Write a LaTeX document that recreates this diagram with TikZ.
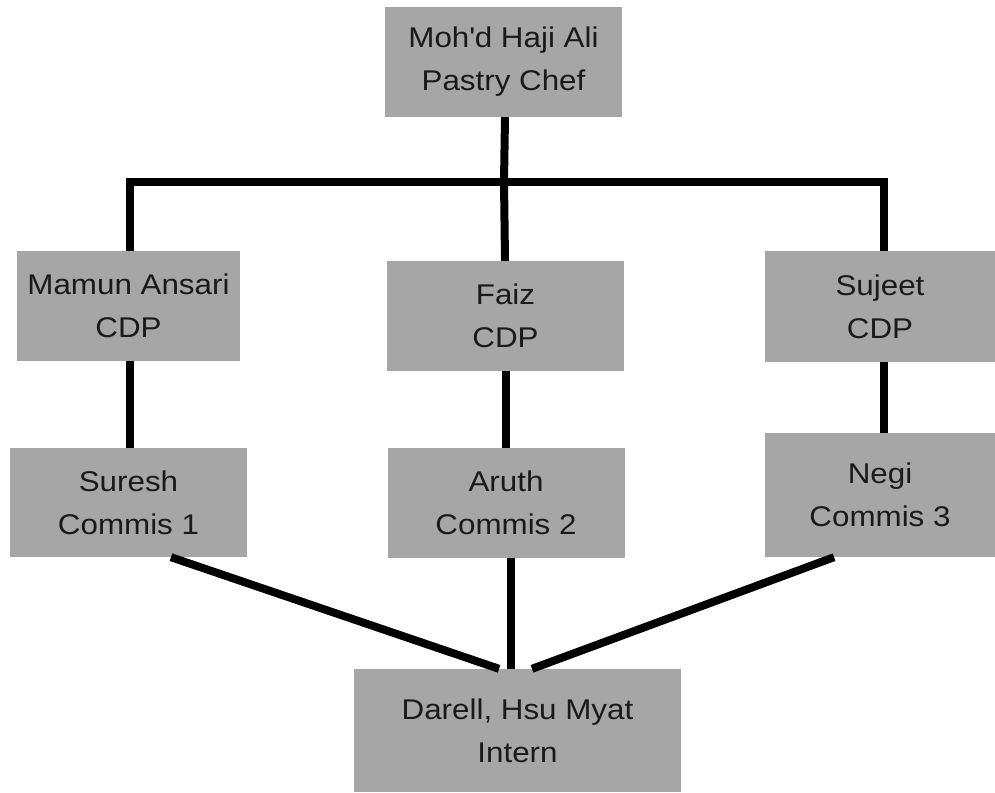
\documentclass[tikz,border=0pt]{standalone}
\usepackage{fontspec}
\setmainfont[FakeStretch=1.1]{Liberation Sans}
\definecolor{boxgray}{RGB}{166,166,166}
\definecolor{txt}{RGB}{26,26,26}
\begin{document}
\begin{tikzpicture}[x=1pt,y=-1pt,
  box/.style={fill=boxgray,draw=none,inner sep=0pt,align=center,text=txt,
    font=\fontsize{28.5}{43}\selectfont},
  conn/.style={draw=black,line width=8pt,line cap=butt,line join=miter}]
\useasboundingbox (0,0) rectangle (995,792);
\node[box,minimum width=237pt,minimum height=110pt] (chef) at (503.5,62) {Moh\textquotesingle d Haji Ali\\Pastry Chef};
\node[box,minimum width=223pt,minimum height=110pt] (mamun) at (128.5,306) {Mamun Ansari\\CDP};
\node[box,minimum width=237pt,minimum height=110pt] (faiz) at (505.5,316) {Faiz\\CDP};
\node[box,minimum width=230pt,minimum height=111pt] (sujeet) at (880,306.5) {Sujeet\\CDP};
\node[box,minimum width=237pt,minimum height=109pt] (suresh) at (128.5,502.5) {Suresh\\Commis 1};
\node[box,minimum width=237pt,minimum height=110pt] (aruth) at (506,503) {Aruth\\Commis 2};
\node[box,minimum width=230pt,minimum height=124pt] (negi) at (880,495) {Negi\\Commis 3};
\node[box,minimum width=327pt,minimum height=123pt] (intern) at (517.5,730.5) {Darell, Hsu Myat\\Intern};
\coordinate (jl) at (129.5,181.5);
\coordinate (jm) at (504,181.5);
\coordinate (jr) at (884,181.5);
\draw[conn] (mamun.north -| jl) -- (jl) -- (jr) -- (sujeet.north -| jr);
\draw[conn] (chef.south -| 505,0) -- (jm) -- (faiz.north -| 505,0);
\draw[conn] (mamun.south -| jl) -- (suresh.north -| jl);
\draw[conn] (sujeet.south -| jr) -- (negi.north -| jr);
\draw[conn] (faiz.south -| 506,0) -- (aruth.north -| 506,0);
\draw[conn] (aruth.south -| 511,0) -- (intern.north -| 511,0);
\draw[conn] (suresh.south -| 171,0) -- (intern.north -| 499,0);
\draw[conn] (negi.south -| 834,0) -- (intern.north -| 532,0);
\end{tikzpicture}
\end{document}
